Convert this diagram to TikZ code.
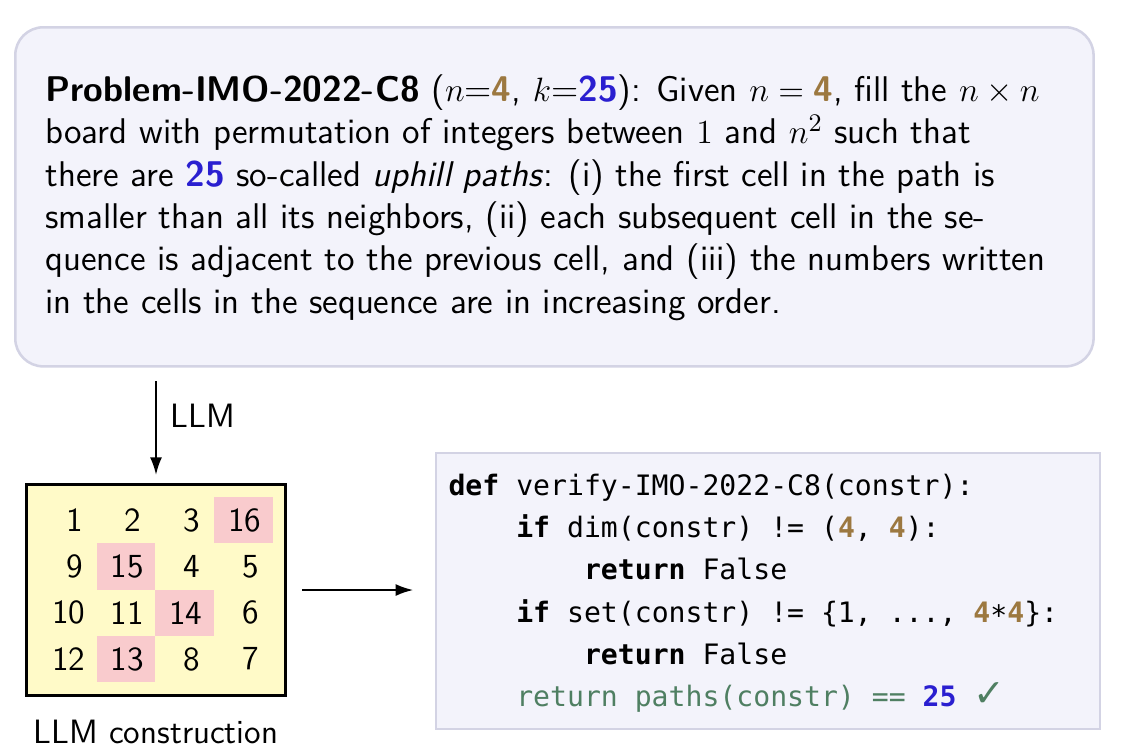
\documentclass[tikz,border=0pt]{standalone}
\usepackage{fontspec}
\setmonofont{DejaVu Sans Mono}
\newfontfamily\checkfont{DejaVu Sans}
\usetikzlibrary{positioning, arrows.meta}
\definecolor{NumGold}{HTML}{9C7840}
\definecolor{NumBlue}{HTML}{2A1FD0}
\definecolor{CodeGreen}{HTML}{4F7F62}
\definecolor{BoxFill}{HTML}{F3F3FB}
\definecolor{BoxLine}{HTML}{D3D3E4}
\definecolor{BoardYellow}{HTML}{FFFAC8}
\definecolor{CellPink}{HTML}{F9CBCD}
\newcommand{\gnum}[1]{\textcolor{NumGold}{\textbf{#1}}}
\newcommand{\bnum}[1]{\textcolor{NumBlue}{\textbf{#1}}}
\newcommand{\codeindent}{\phantom{xxxx}}

\begin{document}
\begin{tikzpicture}[x=0.0125cm, y=-0.0125cm, font={\fontsize{12}{15}\selectfont\sffamily},
    arr/.style={-{Latex[length=2.2mm, width=1.5mm]}, line width=0.7pt},
    probbox/.style={draw=BoxLine, line width=0.9pt, fill=BoxFill, rounded corners=3.5mm},
    codebox/.style={draw=BoxLine, line width=0.5pt, fill=BoxFill},
    boardbox/.style={draw, line width=1.1pt, fill=BoardYellow},
    cell/.style={minimum width=0.734cm, minimum height=0.579cm, text width=0.384cm,
      inner xsep=0.175cm, inner ysep=0pt, align=right}]
    \useasboundingbox (0,0) rectangle (1132,755);

    % problem statement
    \node[probbox, minimum width=13.475cm, minimum height=4.2375cm, anchor=north west] (prob) at (14,26) {};
    \node[anchor=north west, align=left, inner sep=0pt, font={\fontsize{12.7}{15.05}\selectfont\sffamily}] (probtext) at (45,74)
      {\textbf{Problem-IMO-2022-C8} ($n$=\gnum{4}, $k$=\bnum{25}):  Given $n=\gnum{4}$, fill the $n\times n$\\
       board with permutation of integers between $1$ and $n^2$ such that\\
       there are \bnum{25} so-called \textit{uphill paths}:  (i) the first cell in the path is\\
       smaller than all its neighbors, (ii) each subsequent cell in the se-\\
       quence is adjacent to the previous cell, and (iii) the numbers written\\
       in the cells in the sequence are in increasing order.};

    % board built by the LLM
    \node[boardbox, minimum width=3.2375cm, minimum height=2.6375cm] (board) at (156,590) {};
    \foreach \val [count=\i from 0] in {1,2,3,16,9,15,4,5,10,11,14,6,12,13,8,7} {
      \pgfmathtruncatemacro\col{mod(\i,4)}
      \pgfmathtruncatemacro\row{div(\i,4)}
      \ifnum\val>12 \def\cellfill{CellPink}\else\def\cellfill{none}\fi
      \node[cell, fill=\cellfill] (c\i) at ({67.4+58.7*\col},{520.1+46.3*\row}) {\val};
    }
    \node[below=0.16cm of board] (caption) {LLM construction};

    % verifier
    \node[codebox, minimum width=8.3cm, minimum height=3.45cm] (code) at (768,591) {};
    \node[anchor=north west, align=left, inner sep=0pt, font={\fontsize{10}{15}\selectfont\ttfamily}] (codetext) at (448,473.5)
      {\textbf{def} verify-IMO-2022-C8(constr):\\
       \codeindent\textbf{if} dim(constr) != (\gnum{4}, \gnum{4}):\\
       \codeindent\codeindent\textbf{return} False\\
       \codeindent\textbf{if} set(constr) != \{1, ..., \gnum{4}\raisebox{-0.25ex}{*}\gnum{4}\}:\\
       \codeindent\codeindent\textbf{return} False\\
       \codeindent\textcolor{CodeGreen}{return paths(constr) ==} \bnum{25} \textcolor{CodeGreen}{\checkfont\fontsize{13.5}{15}\selectfont ✓}};

    \draw[arr, shorten <=0.17cm, shorten >=0.1cm] (prob.south -| board.north) -- (board.north)
      node[pos=0.42, right=0.17cm, inner sep=0pt] (llm) {LLM};
    \draw[arr, shorten <=0.19cm, shorten >=0.275cm] (board.east) -- (board.east -| code.west);
\end{tikzpicture}
\end{document}
